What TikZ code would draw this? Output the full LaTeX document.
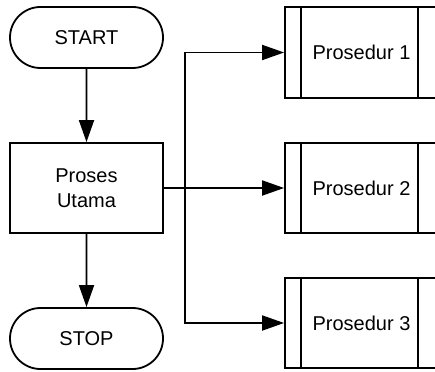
\documentclass[tikz,border=0pt]{standalone}
\usepackage{fontspec}
\setmainfont{Liberation Sans}
\usetikzlibrary{arrows.meta,shapes.misc}
\tikzstyle{term}=[rounded rectangle,draw=black,fill=white,line width=1.8pt,
  minimum width=153pt,minimum height=61pt,inner sep=0pt,
  font=\fontsize{20}{25}\selectfont]
\tikzstyle{proc}=[rectangle,draw=black,fill=white,line width=1.8pt,
  minimum width=153pt,minimum height=90pt,inner sep=0pt,align=center,
  font=\fontsize{20}{25}\selectfont]
\tikzstyle{flow}=[-{Triangle[length=22pt,width=15pt]},line width=1.8pt]
\tikzstyle{none}=[]

\begin{document}
\begin{tikzpicture}[x=1pt,y=-1pt]
            \useasboundingbox (0,0) rectangle (435,371);
            \node [style=term] (0) at (86.5, 37.5) {START};
            \node [style=proc] (1) at (86.5, 188) {Proses\\Utama};
            \node [style=term] (2) at (86.5, 338.5) {STOP};
            \node [style=proc,minimum height=91pt] (3) at (361.5, 52.5) {Prosedur 1};
            \node [style=proc] (4) at (361.5, 188) {Prosedur 2};
            \node [style=proc] (5) at (361.5, 323) {Prosedur 3};
            \coordinate (6) at (185, 188);
            \foreach \n in {3,4,5} {
                \draw [line width=1.8pt] ([xshift=17pt]\n.north west) to ([xshift=17pt]\n.south west);
                \draw [line width=1.8pt] ([xshift=-21pt]\n.north east) to ([xshift=-21pt]\n.south east);
            }
            \draw [style=flow] (0) to (1);
            \draw [style=flow] (1) to (2);
            \draw [style=flow] (1) to (4);
            \draw [style=flow] (6) |- (3);
            \draw [style=flow] (6) |- (5);
    \end{tikzpicture}
\end{document}
